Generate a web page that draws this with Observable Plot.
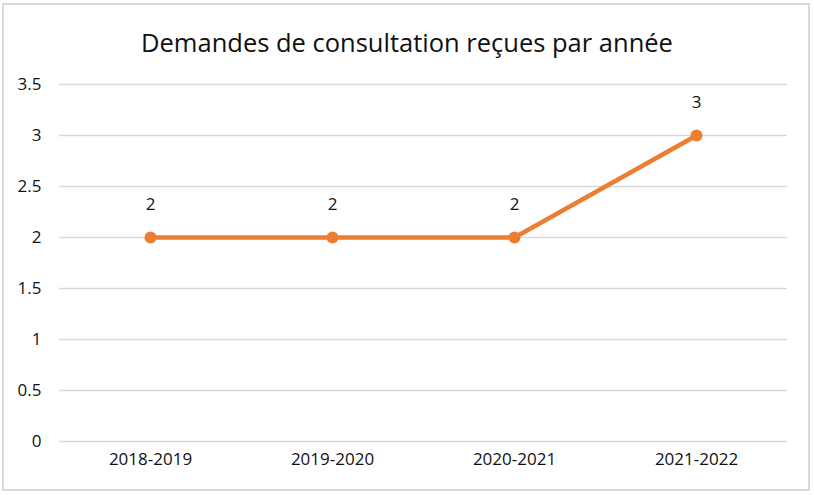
<!DOCTYPE html>
<html>
<head>
<meta charset="utf-8">
<script src="https://cdn.jsdelivr.net/npm/d3@7"></script>
<script src="https://cdn.jsdelivr.net/npm/@observablehq/plot@0.6"></script>
<style>
  html, body { margin: 0; padding: 0; background: #fff; }
  #page { position: relative; width: 814px; height: 495px; overflow: hidden; font-family: "Open Sans", sans-serif; }
  #frame { position: absolute; left: 2px; top: 3px; width: 808px; height: 488px; box-sizing: border-box; border: 2px solid #d9d9d9; }
  #title { position: absolute; left: 0; width: 814px; top: 23px; text-align: center; font-size: 25.5px; line-height: 38px; color: #111; }
  #chart { position: absolute; left: 0; top: 70px; }
</style>
</head>
<body>
<div id="page">
  <div id="frame"></div>
  <div id="title">Demandes de consultation reçues par année</div>
  <div id="chart"></div>
</div>
<script>
const years = ["2018-2019", "2019-2020", "2020-2021", "2021-2022"];
const demandes = [2, 2, 2, 3];
const yTicks = [0, 0.5, 1, 1.5, 2, 2.5, 3, 3.5];

const data = years.map((annee, i) => ({annee, n: demandes[i]}));

const chart = Plot.plot({
  width: 814,
  height: 425,
  marginLeft: 59,
  marginRight: 27,
  marginTop: 14,
  marginBottom: 54,
  x: {type: "point", domain: years, padding: 0.5, label: null},
  y: {domain: [0, 3.5], label: null},
  style: {fontFamily: "Open Sans, sans-serif", fontSize: "17px", color: "#111", background: "transparent"},
  marks: [
    Plot.gridY(yTicks, {stroke: "#d9d9d9", strokeOpacity: 1, strokeWidth: 1.5}),
    Plot.axisY(yTicks, {tickSize: 0, tickPadding: 18, label: null, fontSize: 17, tickFormat: d => String(d)}),
    Plot.axisX({tickSize: 0, tickPadding: 11, label: null, fontSize: 17}),
    Plot.line(data, {x: "annee", y: "n", stroke: "#ED7D31", strokeWidth: 4.5}),
    Plot.dot(data, {x: "annee", y: "n", r: 6, fill: "#ED7D31"}),
    Plot.text(data, {x: "annee", y: "n", text: d => String(d.n), dy: -33, fontSize: 17, fill: "#111"})
  ]
});
document.getElementById("chart").appendChild(chart);
</script>
</body>
</html>
